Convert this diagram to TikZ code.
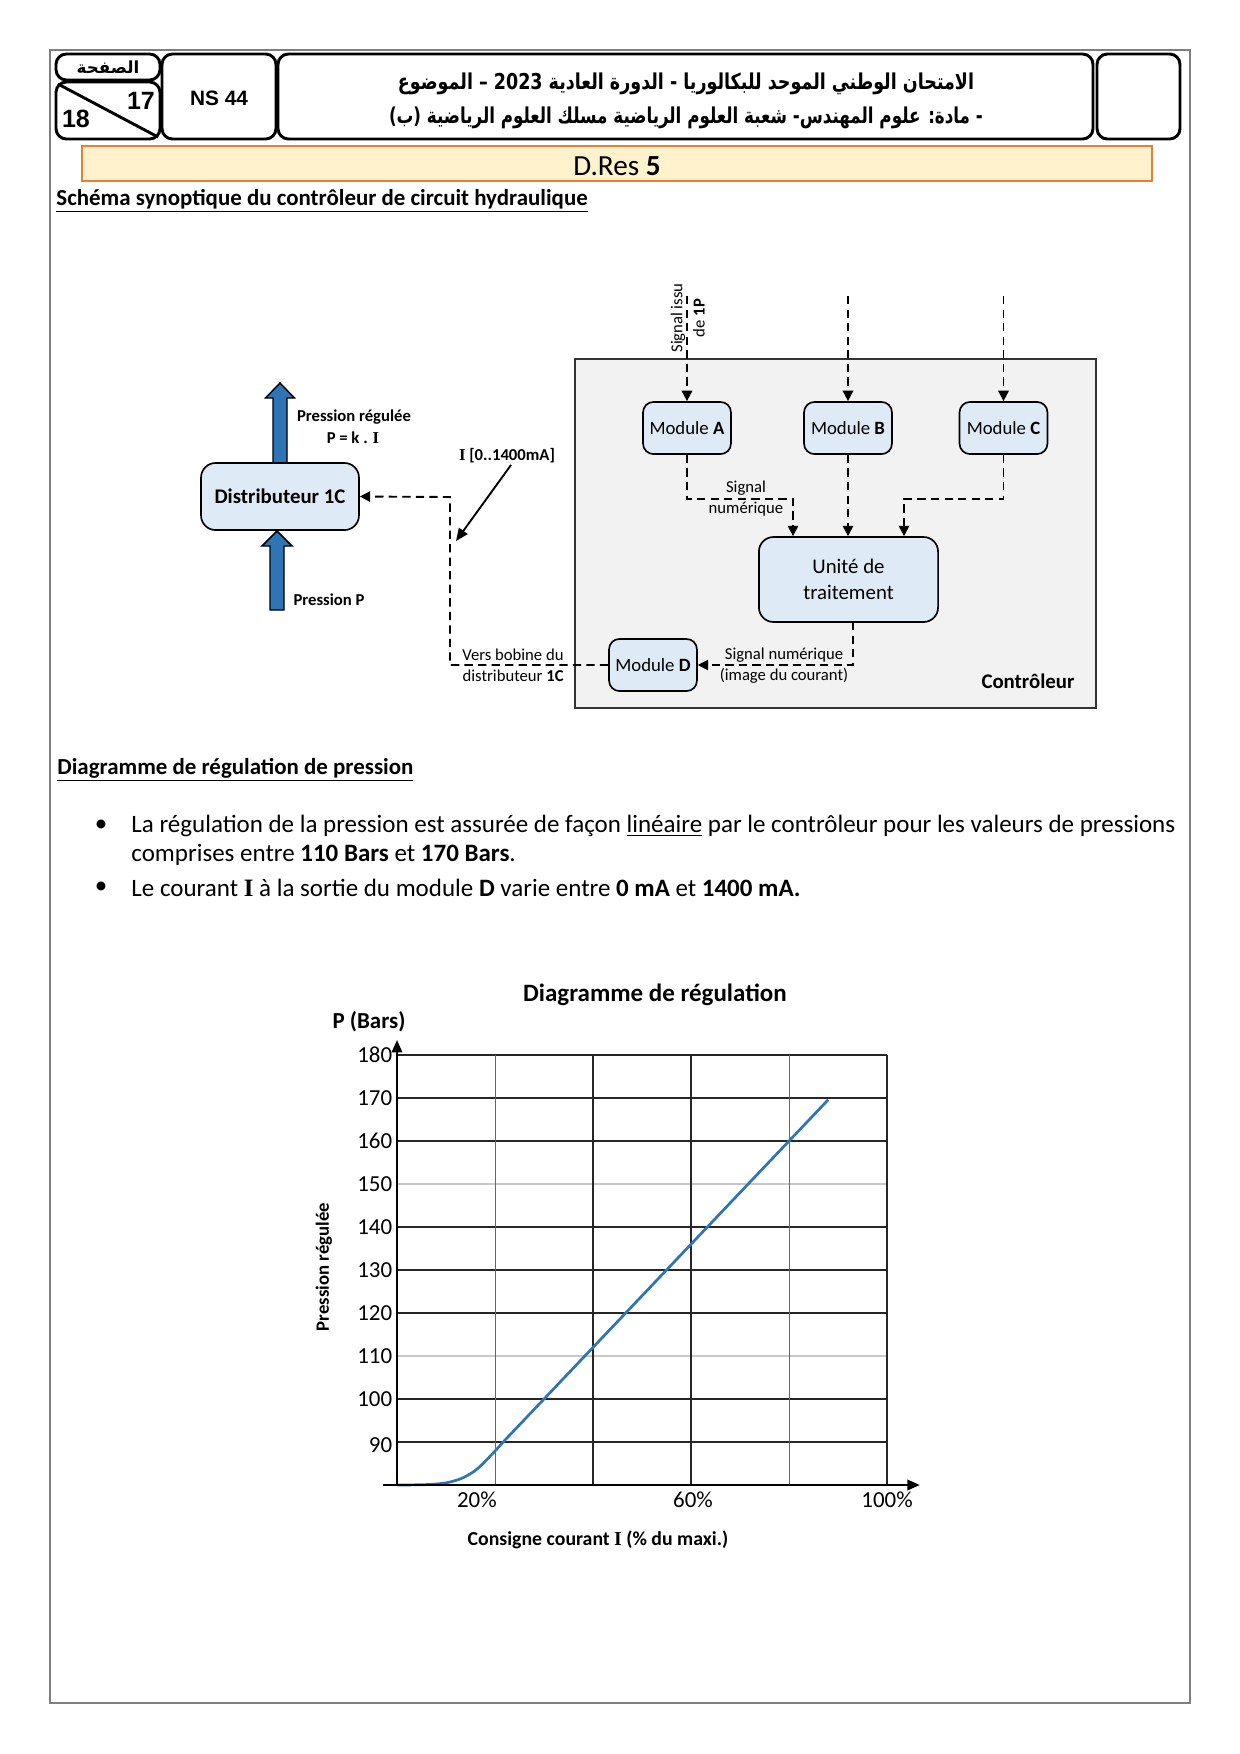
\documentclass[tikz,border=0pt]{standalone}
\usepackage{fontspec}
\setmainfont{Carlito}
\newfontfamily\arabicfont[Script=Arabic]{DejaVu Sans}
\newfontfamily\arialfont{Liberation Sans}
\newfontfamily\timesfont{Liberation Serif}
\TeXXeTstate=1
\usetikzlibrary{arrows.meta}
\definecolor{modfill}{HTML}{DEEBF7}
\definecolor{ctrlfill}{HTML}{F2F2F2}
\definecolor{bandfill}{HTML}{FFF2CC}
\definecolor{bandline}{HTML}{ED7D31}
\definecolor{pagegray}{HTML}{7F7F7F}
\definecolor{curveblue}{HTML}{2E75B6}
\definecolor{lightgrid}{HTML}{C8C8C8}
\newcommand\fsz[1]{\fontsize{#1pt}{#1pt}\selectfont}
\newcommand\serI{{\timesfont\bfseries I}}
\begin{document}
\begin{tikzpicture}[x=0.48pt,y=-0.48pt,
  hdrbox/.style={draw, line width=1.4pt, rounded corners=5pt},
  modbox/.style={draw, line width=0.8pt, fill=modfill, rounded corners=5pt, inner sep=0pt, align=center},
  sigline/.style={line width=0.9pt, dash pattern=on 4pt off 2.5pt},
  sigarrow/.style={sigline, -{Triangle[length=5pt,width=5pt]}},
  bluearrow/.style={draw, line width=0.7pt, fill=curveblue},
  small/.style={font=\fsz{8}, inner sep=0pt},
  smallb/.style={font=\fsz{8}\bfseries, inner sep=0pt},
  gridc/.style={line width=0.6pt, black!85},
  gridl/.style={line width=0.6pt, lightgrid},
  gridt/.style={line width=0.4pt, black!60},
  axisline/.style={line width=1.1pt, -{Triangle[length=6pt,width=5pt]}},
  ticklab/.style={font=\fsz{11}, inner sep=0pt},
  bodytext/.style={anchor=west, inner sep=0pt, font=\fsz{12}}]
\useasboundingbox (0,0) rectangle (1240,1754);
\fill[white] (0,0) rectangle (1240,1754);
% page border
\draw[pagegray, line width=0.6pt] (50,50) rectangle (1190,1703);

% ---------- header ----------
\draw[hdrbox] (56,54) rectangle (160,80);
\draw[hdrbox] (56,82) rectangle (160,139);
\draw[line width=1.4pt] (58,84) -- (158,137);
\draw[hdrbox] (162,54) rectangle (276,139);
\draw[hdrbox] (278,54) rectangle (1093,139);
\draw[hdrbox] (1097,54) rectangle (1180,139);
\node[inner sep=0pt] (pg) at (108,67) {\arabicfont\bfseries\fsz{8}\beginR الصفحة\endR};
\node[inner sep=0pt] (n17) at (141,101) {\arialfont\bfseries\fsz{12}17};
\node[inner sep=0pt] (n18) at (76,119) {\arialfont\bfseries\fsz{12}18};
\node[inner sep=0pt] (ns) at (219,98) {\arialfont\bfseries\fsz{10}NS 44};
\node[inner sep=0pt, xscale=0.80] (ar1) at (686,84) {\arabicfont\bfseries\fsz{10.5}\beginR الامتحان الوطني الموحد للبكالوريا - الدورة العادية \beginL 2023\endL{} – الموضوع\endR};
\node[inner sep=0pt, xscale=0.765] (ar2) at (686,118) {\arabicfont\bfseries\fsz{10.5}\beginR - مادة: علوم المهندس- شعبة العلوم الرياضية مسلك العلوم الرياضية (ب)\endR};

% band
\draw[bandline, fill=bandfill, line width=0.8pt] (82,146) rectangle (1152,181);
\node[inner sep=0pt] (dres) at (617,166) {\fsz{14}D.Res \textbf{5}};

\node[anchor=west, inner sep=0pt] (t1) at (56,201) {\fsz{11}\bfseries\underline{Schéma synoptique du contrôleur de circuit hydraulique}};

% ---------- schematic ----------
\draw[bluearrow] (273,463) -- (273,398) -- (265.5,398) -- (280,383) -- (294.5,398) -- (287,398) -- (287,463) -- cycle;
\draw[bluearrow] (270,610) -- (270,546) -- (262,546) -- (277,531) -- (292,546) -- (284,546) -- (284,610) -- cycle;
\node[modbox, minimum width=75.8pt, minimum height=32.2pt, rounded corners=7pt, font=\fsz{10}\bfseries] (dist) at (280,496.5) {Distributeur 1C};
\node[smallb] (preg) at (354,417) {Pression régulée};
\node[smallb] (pk) at (353,438) {P = k . \serI};
\node[smallb] (pp) at (329,600) {Pression P};

\draw[draw=black!80, fill=ctrlfill, line width=0.9pt] (575,359) rectangle (1096,708);
\node[font=\fsz{10}\bfseries, inner sep=0pt] (ctl) at (1028,681) {Contrôleur};

\node[modbox, minimum width=42.2pt, minimum height=25pt, font=\fsz{9}] (modA) at (687,428) {Module \textbf{A}};
\node[modbox, minimum width=42.2pt, minimum height=25pt, font=\fsz{9}] (modB) at (848,428) {Module \textbf{B}};
\node[modbox, minimum width=42.2pt, minimum height=25pt, font=\fsz{9}] (modC) at (1003.5,428) {Module \textbf{C}};
\node[modbox, minimum width=42.2pt, minimum height=25pt, font=\fsz{9}] (modD) at (653,665) {Module \textbf{D}};
\node[modbox, minimum width=86pt, minimum height=40.8pt, rounded corners=7pt, font=\fontsize{10}{12.5}\selectfont] (unite) at (848.5,579.5) {Unité de\\traitement};

% inputs
\coordinate (inA) at (687,296);
\coordinate (inB) at (848,296);
\coordinate (inC) at (1003.5,296);
\draw[sigarrow] (inA) -- (modA.north);
\draw[sigarrow] (inB) -- (modB.north);
\draw[sigarrow] (inC) -- (modC.north);
\node[small, rotate=90] (sig1) at (678,318) {Signal issu};
\node[small, rotate=90] (sig2) at (699,318) {de \textbf{1P}};

% outputs to unite
\coordinate (a1) at (687,499);
\coordinate (a2) at (793,499);
\draw[sigarrow] (modA.south) -- (a1) -- (a2) -- (a2 |- unite.north);
\draw[sigarrow] (modB.south) -- (modB.south |- unite.north);
\coordinate (c1) at (1003.5,499);
\coordinate (c2) at (904,499);
\draw[sigarrow] (modC.south) -- (c1) -- (c2) -- (c2 |- unite.north);
\node[small] (sn1) at (746,488) {Signal};
\node[small] (sn2) at (746,509) {numérique};

% unite -> module D
\coordinate (u1) at (853,622);
\coordinate (u2) at (853,665);
\draw[sigarrow] (u1) -- (u2) -- (modD.east);
\node[small] (sn3) at (784,655) {Signal numérique};
\node[small] (sn4) at (784,676) {(image du courant)};

% module D -> distributeur
\coordinate (d1) at (450,665);
\coordinate (d2) at (450,497);
\draw[sigarrow] (modD.west) -- (d1) -- (d2) -- (dist.east);
\node[small, anchor=east] (vb1) at (564,655) {Vers bobine du};
\node[small, anchor=east] (vb2) at (564,676) {distributeur \textbf{1C}};

% current label
\node[smallb] (ilab) at (507,456) {\serI{} [0..1400mA]};
\coordinate (ia) at (511,465);
\coordinate (ib) at (456,541);
\draw[line width=0.9pt, -{Triangle[length=6pt,width=5pt]}] (ia) -- (ib);

% ---------- section 2 ----------
\node[anchor=west, inner sep=0pt] (t2) at (57,770) {\fsz{11}\bfseries\underline{Diagramme de régulation de pression}};
\node[inner sep=0pt] (b1) at (101,826) {\fsz{12}•};
\node[inner sep=0pt] (b2) at (101,888) {\fsz{12}•};
\node[bodytext] (l1) at (131,826) {La régulation de la pression est assurée de façon \underline{linéaire} par le contrôleur pour les valeurs de pressions};
\node[bodytext] (l2) at (131,855) {comprises entre \textbf{110 Bars} et \textbf{170 Bars}.};
\node[bodytext] (l3) at (131,888) {Le courant \serI{} à la sortie du module \textbf{D} varie entre \textbf{0 mA} et \textbf{1400 mA.}};

% ---------- chart ----------
\node[inner sep=0pt, font=\fsz{12}\bfseries] (ctitle) at (655,995) {Diagramme de régulation};
\node[inner sep=0pt, font=\fsz{11}\bfseries] (pbars) at (369,1022) {P (Bars)};
\node[inner sep=0pt, font=\fsz{9}\bfseries, rotate=90] (ylab) at (324,1267) {Pression régulée};
\node[inner sep=0pt, font=\fsz{9.5}\bfseries] (xlab) at (598,1540) {Consigne courant \serI{} (\% du maxi.)};

\begin{scope}[shift={(397,1485)}, x=2.352pt, y=2.064pt]
  \foreach \b in {10,20,40,50,60,80,90,100} \draw[gridc] (0,\b) -- (100,\b);
  \foreach \b in {30,70} \draw[gridl] (0,\b) -- (100,\b);
  \foreach \p in {40,60,100} \draw[gridc] (\p,0) -- (\p,100);
  \foreach \p in {20,80} \draw[gridt] (\p,0) -- (\p,100);
  \draw[curveblue, line width=1.3pt] plot[smooth] coordinates {(0,0) (6,0.1) (10,0.5) (13.1,1.5) (15.5,3) (17.3,4.7) (20,7.9) (22,10.4)} -- (88,89.6);
  \draw[axisline] (-2.9,0) -- (106.7,0);
  \draw[axisline] (0,0) -- (0,103.5);
  \foreach \b/\lab in {100/180,90/170,80/160,70/150,60/140,50/130,40/120,30/110,20/100}
    \node[ticklab, anchor=east] (yl\lab) at (-0.9,\b) {\lab};
  \node[ticklab, anchor=east] (yl90) at (-0.9,9.3) {90};
  \node[ticklab] (x20) at (16.3,-3.4) {20\%};
  \node[ticklab] (x60) at (60.4,-3.4) {60\%};
  \node[ticklab] (x100) at (100,-3.4) {100\%};
\end{scope}
\end{tikzpicture}
\end{document}
